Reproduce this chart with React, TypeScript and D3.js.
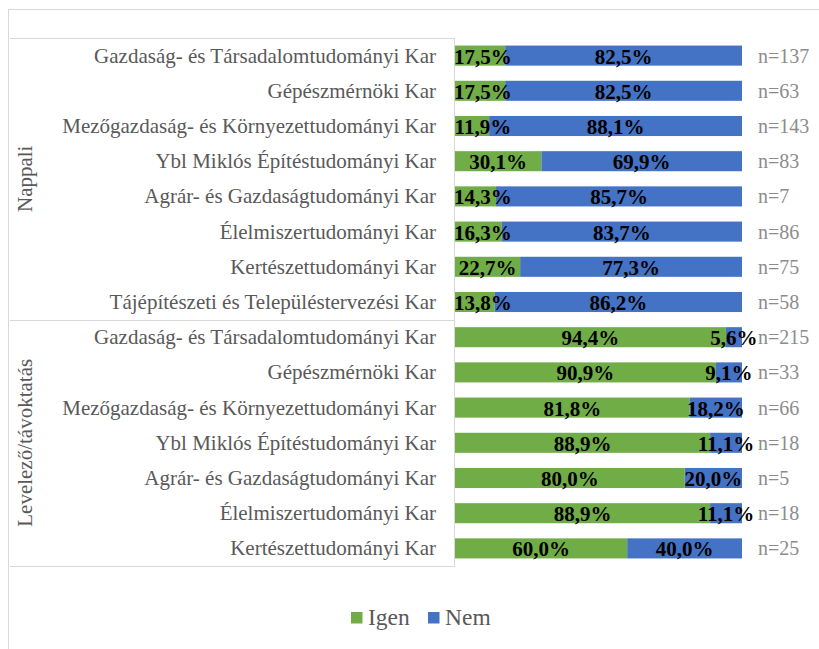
import React from "react";
import * as d3 from "d3";

const groups = ["Nappali", "Levelező/távoktatás"];
const nappaliCats = [
  "Gazdaság- és Társadalomtudományi Kar",
  "Gépészmérnöki Kar",
  "Mezőgazdaság- és Környezettudományi Kar",
  "Ybl Miklós Építéstudományi Kar",
  "Agrár- és Gazdaságtudományi Kar",
  "Élelmiszertudományi Kar",
  "Kertészettudományi Kar",
  "Tájépítészeti és Településtervezési Kar",
];
const nappaliIgen = [17.5, 17.5, 11.9, 30.1, 14.3, 16.3, 22.7, 13.8];
const nappaliNem = [82.5, 82.5, 88.1, 69.9, 85.7, 83.7, 77.3, 86.2];
const nappaliN = [137, 63, 143, 83, 7, 86, 75, 58];

const levCats = [
  "Gazdaság- és Társadalomtudományi Kar",
  "Gépészmérnöki Kar",
  "Mezőgazdaság- és Környezettudományi Kar",
  "Ybl Miklós Építéstudományi Kar",
  "Agrár- és Gazdaságtudományi Kar",
  "Élelmiszertudományi Kar",
  "Kertészettudományi Kar",
];
const levIgen = [94.4, 90.9, 81.8, 88.9, 80.0, 88.9, 60.0];
const levNem = [5.6, 9.1, 18.2, 11.1, 20.0, 11.1, 40.0];
const levN = [215, 33, 66, 18, 5, 18, 25];

const seriesNames = ["Igen", "Nem"];
const colors = ["#70AD47", "#4472C4"];

type Row = { group: number; cat: string; igen: number; nem: number; n: number };
const rows: Row[] = [
  ...nappaliCats.map((c, i) => ({ group: 0, cat: c, igen: nappaliIgen[i], nem: nappaliNem[i], n: nappaliN[i] })),
  ...levCats.map((c, i) => ({ group: 1, cat: c, igen: levIgen[i], nem: levNem[i], n: levN[i] })),
];

const fmt = (v: number) => v.toFixed(1).replace(".", ",") + "%";
const FONT = "Liberation Serif, Times New Roman, serif";
const PCT_SIZE = 21;
// approximate label width with Times Bold metrics
const labelWidth = (s: string) => {
  let w = 0;
  for (const ch of s) w += ch === "%" ? 1.0 : ch === "," ? 0.25 : 0.5;
  return w * PCT_SIZE;
};

export default function App() {
  const W = 819, H = 649;
  const top = 38, bottom = 566, left = 455, right = 742;
  const y = d3.scaleBand<number>().domain(rows.map((_, i) => i)).range([top, bottom]).paddingInner(0.43).paddingOuter(0.215);
  const x = d3.scaleLinear().domain([0, 100]).range([left, right]);
  const sepY = (y(7)! + y.bandwidth() + y(8)!) / 2;
  const groupMid = [(top + sepY) / 2, (sepY + bottom) / 2];
  const grey = "#d9d9d9";
  return (
    <svg width={W} height={H} style={{ position: "absolute", left: 0, top: 0, background: "#fff", fontFamily: FONT }}>
      <rect x={0} y={0} width={W} height={H} fill="#fff" />
      <line x1={8.5} x2={8.5} y1={9} y2={H} stroke={grey} />
      <line x1={8} x2={W} y1={9.5} y2={9.5} stroke={grey} />
      <line x1={10} x2={left} y1={top + 0.5} y2={top + 0.5} stroke={grey} />
      <line x1={10} x2={left} y1={Math.round(sepY) + 0.5} y2={Math.round(sepY) + 0.5} stroke={grey} />
      <line x1={10} x2={left} y1={bottom + 0.5} y2={bottom + 0.5} stroke={grey} />
      <line x1={left - 0.5} x2={left - 0.5} y1={top} y2={bottom + 1} stroke={grey} />
      {groups.map((g, i) => (
        <text key={g} transform={`translate(32,${groupMid[i]}) rotate(-90)`} textAnchor="middle" fontSize={21} fill="#595959">
          {g}
        </text>
      ))}
      {rows.map((r, i) => {
        const yy = y(i)!;
        const bh = y.bandwidth();
        const cy = yy + bh / 2;
        const vals = [r.igen, r.nem];
        const starts = [0, r.igen];
        return (
          <g key={i}>
            <text x={436} y={cy + 7} textAnchor="end" fontSize={21} fill="#595959">
              {r.cat}
            </text>
            {vals.map((v, k) => (
              <rect key={k} x={x(starts[k])} y={yy} width={x(starts[k] + v) - x(starts[k])} height={bh} fill={colors[k]} />
            ))}
            {vals.map((v, k) => {
              const s = fmt(v);
              const w = labelWidth(s);
              let cx = (x(starts[k]) + x(starts[k] + v)) / 2;
              if (cx - w / 2 < left - 1) cx = left - 1 + w / 2;
              return (
                <text key={"t" + k} x={cx} y={cy + 8} textAnchor="middle" fontSize={PCT_SIZE} fontWeight="bold" fill="#000">
                  {s}
                </text>
              );
            })}
            <text x={758} y={cy + 7} fontSize={20} fill="#8c8c8c">
              {"n=" + r.n}
            </text>
          </g>
        );
      })}
      {seriesNames.map((s, k) => {
        const lx = 351 + k * 77;
        return (
          <g key={s}>
            <rect x={lx} y={612} width={11.5} height={11.5} fill={colors[k]} />
            <text x={lx + 17} y={625} fontSize={23.5} fill="#595959">
              {s}
            </text>
          </g>
        );
      })}
    </svg>
  );
}
